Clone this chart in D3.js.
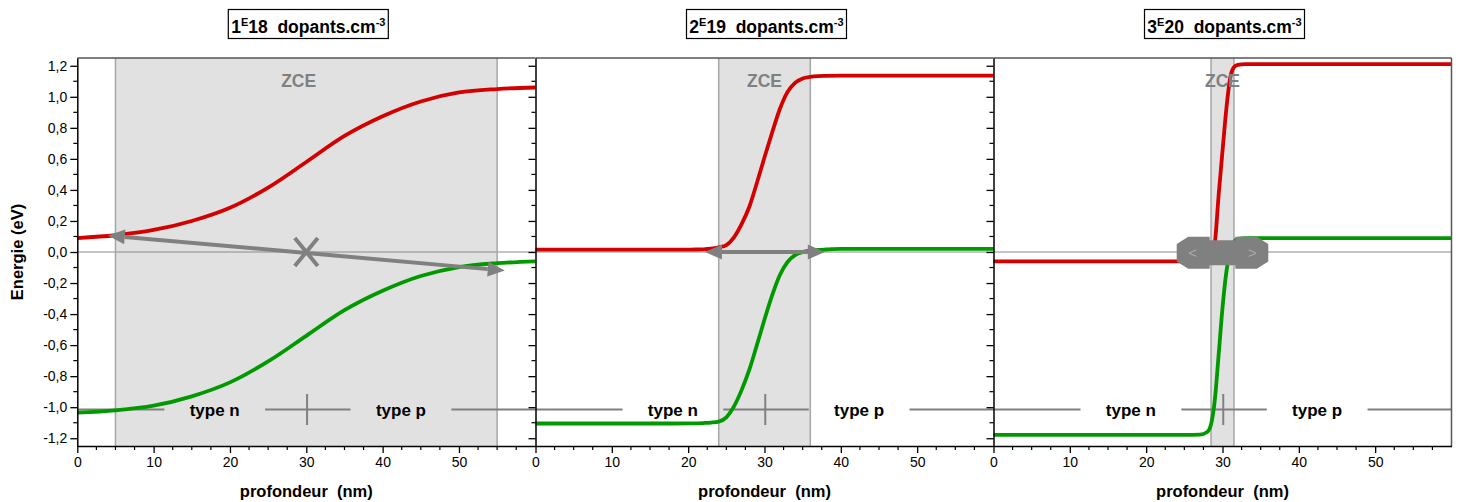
<!DOCTYPE html>
<html><head><meta charset="utf-8">
<script src="https://cdn.jsdelivr.net/npm/d3@7"></script>
<style>body{margin:0;background:#fff} svg{display:block} text{font-family:"Liberation Sans",Arial,sans-serif}</style>
</head><body>
<svg id="c" width="1460" height="502"></svg>
<script>
// ---------- data ----------
const titleBase = ["1", "2", "3"];
const titleExp = ["18", "19", "20"];
const xTickValues = [0, 10, 20, 30, 40, 50];
const yTickValues = [-1.2, -1.0, -0.8, -0.6, -0.4, -0.2, 0, 0.2, 0.4, 0.6, 0.8, 1.0, 1.2];

const depth1 = [0, 5, 10, 15, 20, 25, 30, 35, 40, 45, 50, 55, 60];
const red1   = [0.09, 0.108, 0.142, 0.2, 0.285, 0.415, 0.58, 0.748, 0.875, 0.97, 1.028, 1.05, 1.06];
const green1 = [-1.035, -1.02, -0.99, -0.93, -0.84, -0.705, -0.54, -0.375, -0.25, -0.155, -0.097, -0.072, -0.06];

const depth2 = [0, 10, 18, 21, 22, 23, 24, 25, 26, 27, 28, 29, 30, 31, 32, 33, 34, 35, 36, 37, 38, 40, 45, 52, 60];
const red2   = [0.015, 0.015, 0.015, 0.016, 0.017, 0.021, 0.03, 0.045, 0.095, 0.18, 0.29, 0.445, 0.61, 0.77, 0.92, 1.03, 1.09, 1.118, 1.128, 1.133, 1.135, 1.137, 1.137, 1.137, 1.137];
const green2 = [-1.105, -1.105, -1.105, -1.104, -1.102, -1.099, -1.093, -1.065, -0.995, -0.89, -0.76, -0.6, -0.435, -0.28, -0.15, -0.065, -0.02, 0.0, 0.008, 0.013, 0.016, 0.02, 0.02, 0.02, 0.02];

const depth3 = [0, 10, 20, 26, 27, 28, 28.5, 29, 29.5, 30, 30.5, 31, 31.5, 32, 33, 34, 40, 50, 60];
const red3   = [-0.06, -0.06, -0.06, -0.06, -0.06, -0.055, -0.03, 0.06, 0.37, 0.65, 0.92, 1.12, 1.19, 1.205, 1.21, 1.21, 1.21, 1.21, 1.21];
const green3 = [-1.178, -1.178, -1.178, -1.178, -1.177, -1.16, -1.11, -0.95, -0.66, -0.36, -0.13, 0.0, 0.065, 0.085, 0.09, 0.09, 0.09, 0.09, 0.09];

const zceStart = [5, 24, 28.5];
const zceEnd   = [55, 36, 31.5];
const zceLabelAt = [29, 30, 30];

const typeLineEnergy = -1.015;
const typeSegments = [[0, 11.4], [24.6, 35.8], [49.0, 60]];
const typeLabels = ["type n", "type p"];
const typeLabelAt = [18, 42.4];
const typeCrossAt = 30.1;

// arrows [x1, y1, x2, y2]
const arrow1 = [4.0, 0.107, 56.0, -0.12];
const crossMark1 = [30.0, 0.0];
const arrow2 = [22.2, 0.0, 37.9, 0.0];
const arrow3 = [24.0, 0.0, 36.0, 0.0];

const panels = [
  {depth: depth1, red: red1, green: green1},
  {depth: depth2, red: red2, green: green2},
  {depth: depth3, red: red3, green: green3}
];

// ---------- layout ----------
const svg = d3.select("#c");
const panelLeft = [77.3, 535.5, 993.5];
const panelW = 458;
const plotTop = 58, plotBottom = 446;
const y = d3.scaleLinear().domain([-1.25, 1.25]).range([plotBottom, plotTop]);
const GRAY = "#808080";
const RED = "#d40000", GREEN = "#009a00";
const fmtY = v => d3.format(".1f")(v).replace(".", ",").replace("\u2212", "-");

function arrowHead(g, tx, ty, fx, fy, len, hw, color) {
  const a = Math.atan2(ty - fy, tx - fx);
  const bx = tx - len * Math.cos(a), by = ty - len * Math.sin(a);
  const px = -Math.sin(a) * hw, py = Math.cos(a) * hw;
  g.append("polygon")
    .attr("points", [[tx, ty], [bx + px, by + py], [bx - px, by - py]].map(p => p.join(",")).join(" "))
    .attr("fill", color);
  return [bx, by];
}

panels.forEach((p, i) => {
  const x = d3.scaleLinear().domain([0, 60]).range([panelLeft[i], panelLeft[i] + panelW]);
  const g = svg.append("g");

  // ZCE band
  g.append("rect").attr("x", x(zceStart[i])).attr("y", plotTop)
    .attr("width", x(zceEnd[i]) - x(zceStart[i])).attr("height", plotBottom - plotTop)
    .attr("fill", "#e1e1e1");
  // zero line
  g.append("line").attr("x1", x(0)).attr("x2", x(60)).attr("y1", y(0)).attr("y2", y(0))
    .attr("stroke", "#8a8a8a").attr("stroke-width", 1);
  [zceStart[i], zceEnd[i]].forEach(v => {
    g.append("line").attr("x1", x(v)).attr("x2", x(v)).attr("y1", plotTop).attr("y2", plotBottom)
      .attr("stroke", "#a6a6a6").attr("stroke-width", 1.5);
  });

  // type n / type p dimension line
  typeSegments.forEach(s => {
    g.append("line").attr("x1", x(s[0])).attr("x2", x(s[1]))
      .attr("y1", y(typeLineEnergy)).attr("y2", y(typeLineEnergy))
      .attr("stroke", GRAY).attr("stroke-width", 2);
  });
  g.append("line").attr("x1", x(typeCrossAt)).attr("x2", x(typeCrossAt))
    .attr("y1", y(typeLineEnergy + 0.1)).attr("y2", y(typeLineEnergy - 0.1))
    .attr("stroke", GRAY).attr("stroke-width", 2);
  typeLabels.forEach((t, k) => {
    g.append("text").attr("x", x(typeLabelAt[k])).attr("y", y(typeLineEnergy) + 6)
      .attr("text-anchor", "middle").attr("font-size", 17).attr("font-weight", "bold")
      .attr("fill", "#000").text(t);
  });

  // band curves
  const line = d3.line().x(d => x(d[0])).y(d => y(d[1]))
    .curve(i === 0 ? d3.curveCatmullRom.alpha(0.5) : d3.curveMonotoneX);
  g.append("path").attr("d", line(p.depth.map((d, k) => [d, p.red[k]])))
    .attr("fill", "none").attr("stroke", RED).attr("stroke-width", 3.8);
  g.append("path").attr("d", line(p.depth.map((d, k) => [d, p.green[k]])))
    .attr("fill", "none").attr("stroke", GREEN).attr("stroke-width", 3.8);

  // arrows
  if (i === 0 || i === 1) {
    const a = i === 0 ? arrow1 : arrow2;
    const x1 = x(a[0]), y1 = y(a[1]), x2 = x(a[2]), y2 = y(a[3]);
    const b1 = arrowHead(g, x1, y1, x2, y2, 17, 7.5, GRAY);
    const b2 = arrowHead(g, x2, y2, x1, y1, 17, 7.5, GRAY);
    g.append("line").attr("x1", b1[0]).attr("y1", b1[1]).attr("x2", b2[0]).attr("y2", b2[1])
      .attr("stroke", GRAY).attr("stroke-width", 4);
    if (i === 0) {
      const cx = x(crossMark1[0]), cy = y(crossMark1[1]);
      g.append("path").attr("d", `M${cx - 11.5},${cy - 14}L${cx + 11.5},${cy + 14}M${cx - 11.5},${cy + 14}L${cx + 11.5},${cy - 14}`)
        .attr("stroke", GRAY).attr("stroke-width", 4).attr("fill", "none");
    }
  } else {
    const L = x(arrow3[0]), R = x(arrow3[2]), y0 = y(arrow3[1]) + 0.8;
    const pts = [[L, -8.7], [L + 11.5, -16], [L + 33, -16], [L + 33, -12.5], [R - 33, -12.5], [R - 33, -16],
      [R - 11.5, -16], [R, -8.7], [R, 8.7], [R - 11.5, 16], [R - 33, 16], [R - 33, 12.5], [L + 33, 12.5],
      [L + 33, 16], [L + 11.5, 16], [L, 8.7]];
    g.append("polygon").attr("points", pts.map(q => [q[0], y0 + q[1]].join(",")).join(" ")).attr("fill", GRAY);
    g.append("text").attr("x", L + 16).attr("y", y0 + 5).attr("text-anchor", "middle")
      .attr("font-size", 15).attr("fill", "#a9a9a9").text("<");
    g.append("text").attr("x", R - 16).attr("y", y0 + 5).attr("text-anchor", "middle")
      .attr("font-size", 15).attr("fill", "#a9a9a9").text(">");
  }

  // ZCE label
  g.append("text").attr("x", x(zceLabelAt[i])).attr("y", 86.5).attr("text-anchor", "middle")
    .attr("font-size", 17.5).attr("font-weight", "bold").attr("fill", GRAY).text("ZCE");

  // frame: top and (last) right
  g.append("line").attr("x1", x(0)).attr("x2", x(60)).attr("y1", plotTop).attr("y2", plotTop)
    .attr("stroke", "#555").attr("stroke-width", 1.5);
  if (i === 2) {
    g.append("line").attr("x1", x(60)).attr("x2", x(60)).attr("y1", plotTop).attr("y2", plotBottom)
      .attr("stroke", "#555").attr("stroke-width", 1.5);
  }

  // x axis
  const xAxis = d3.axisBottom(x).tickValues(xTickValues).tickSize(7).tickSizeOuter(0).tickPadding(4).tickFormat(d3.format("d"));
  const ga = g.append("g").attr("transform", `translate(0,${plotBottom})`).call(xAxis);
  ga.select(".domain").attr("stroke", "#000").attr("stroke-width", 1.5);
  ga.selectAll(".tick line").attr("stroke-width", 1.3);
  ga.selectAll(".tick text").attr("font-size", 14).attr("font-family", "Liberation Sans, Arial, sans-serif").attr("fill", "#000");
  const xMinor = d3.range(2.5, 60, 2.5).filter(v => Math.abs(v % 10) > 0.01);
  g.selectAll(null).data(xMinor).enter().append("line")
    .attr("x1", d => x(d)).attr("x2", d => x(d)).attr("y1", plotBottom).attr("y2", plotBottom + 4)
    .attr("stroke", "#000").attr("stroke-width", 1.2);

  // y axis
  const yAxis = d3.axisLeft(y).tickValues(yTickValues).tickSize(7).tickSizeOuter(0).tickPadding(3)
    .tickFormat(i === 0 ? fmtY : () => "");
  const gy = g.append("g").attr("transform", `translate(${panelLeft[i]},0)`).call(yAxis);
  gy.select(".domain").attr("stroke", "#000").attr("stroke-width", 1.5);
  gy.selectAll(".tick line").attr("stroke-width", 1.3);
  gy.selectAll(".tick text").attr("font-size", 14).attr("font-family", "Liberation Sans, Arial, sans-serif").attr("fill", "#000");
  const yMinor = d3.range(-12, 13).filter(v => Math.abs(v) % 2 === 1).map(v => v / 10);
  g.selectAll(null).data(yMinor).enter().append("line")
    .attr("x1", panelLeft[i] - 4).attr("x2", panelLeft[i]).attr("y1", d => y(d)).attr("y2", d => y(d))
    .attr("stroke", "#000").attr("stroke-width", 1.2);

  // x axis label
  g.append("text").attr("x", x(30)).attr("y", 497).attr("text-anchor", "middle")
    .attr("font-size", 16.5).attr("font-weight", "bold").style("white-space", "pre")
    .text("profondeur  (nm)");

  // title box
  const cx = x(30) + 2;
  const t = g.append("text").attr("x", cx).attr("y", 32.5).attr("text-anchor", "middle")
    .attr("font-size", 17.5).attr("font-weight", "bold").style("white-space", "pre");
  t.append("tspan").text(titleBase[i]);
  t.append("tspan").attr("font-size", 11).attr("dy", -7).text("E");
  t.append("tspan").attr("dy", 7).text(titleExp[i] + "  dopants.cm");
  t.append("tspan").attr("font-size", 11).attr("dy", -7).text("-3");
  g.append("rect").attr("x", cx - 80).attr("y", 9.5).attr("width", 160).attr("height", 29)
    .attr("fill", "none").attr("stroke", "#000").attr("stroke-width", 1.2);
});

// y axis label
svg.append("text").attr("transform", "translate(23,252) rotate(-90)").attr("text-anchor", "middle")
  .attr("font-size", 16.5).attr("font-weight", "bold").text("Energie (eV)");
</script>
</body></html>
